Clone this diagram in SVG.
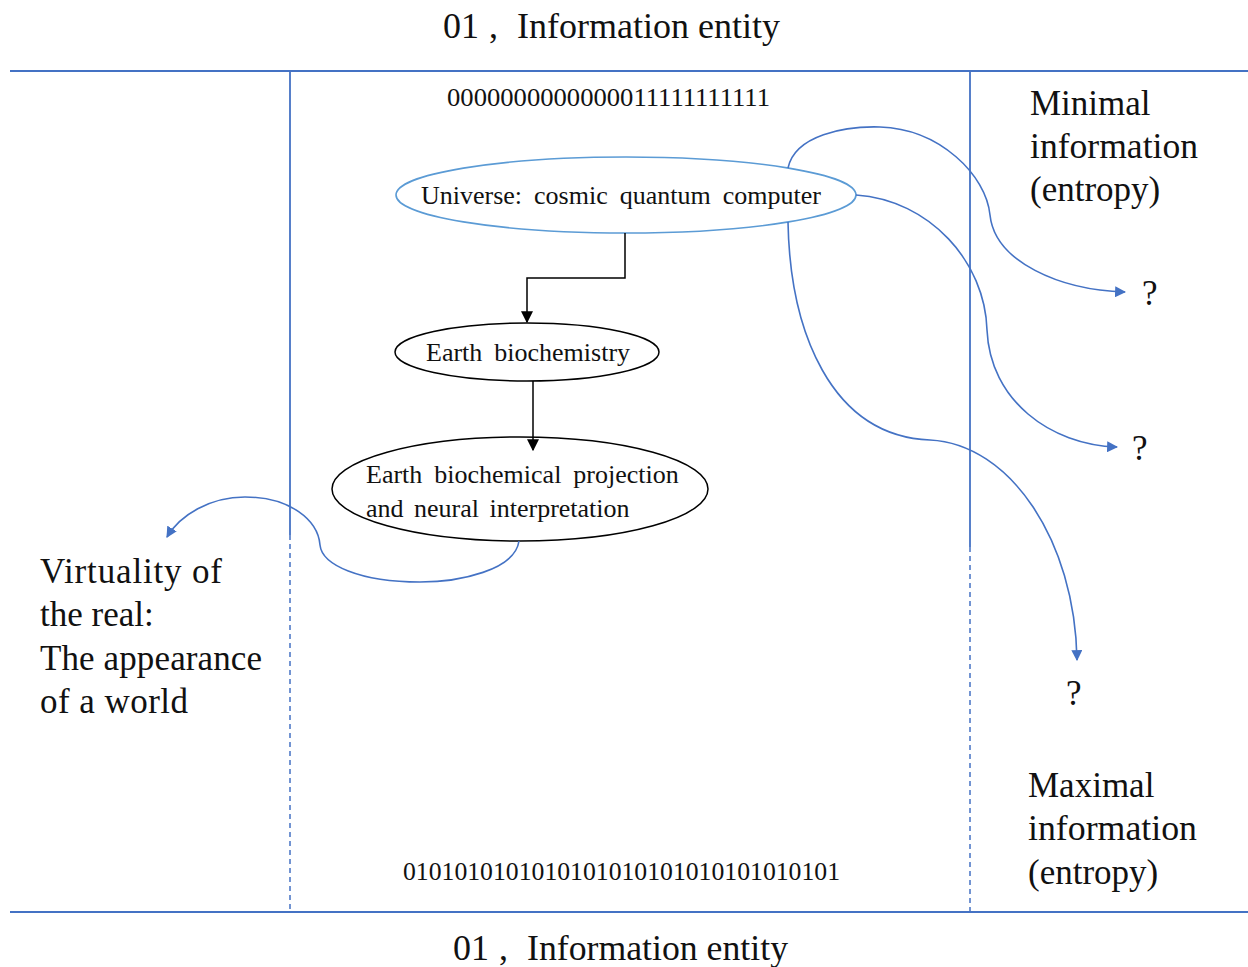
<svg xmlns="http://www.w3.org/2000/svg" width="1248" height="967" viewBox="0 0 1248 967">
<style>
  text { font-family: "Liberation Serif", serif; fill: #111; }
  .title { font-size: 36px; }
  .side { font-size: 35px; }
  .bin { font-size: 25.8px; }
  .node { font-size: 26px; word-spacing: 5px; }
  .frame { stroke: #4472C4; stroke-width: 1.8; fill: none; }
  .dash { stroke: #4472C4; stroke-width: 1.5; stroke-dasharray: 5 4; fill: none; }
  .curve { stroke: #4472C4; stroke-width: 1.6; fill: none; marker-end: url(#blueArrow); }
  .edge { stroke: #000; stroke-width: 1.5; fill: none; marker-end: url(#blackArrow); }
</style>
<defs>
  <marker id="blueArrow" viewBox="0 0 10 10" refX="9" refY="5" markerWidth="11" markerHeight="11" markerUnits="userSpaceOnUse" orient="auto">
    <path d="M0,0 L10,5 L0,10 z" fill="#4472C4"/>
  </marker>
  <marker id="blackArrow" viewBox="0 0 10 10" refX="9" refY="5" markerWidth="12" markerHeight="12" markerUnits="userSpaceOnUse" orient="auto">
    <path d="M0,0 L10,5 L0,10 z" fill="#000"/>
  </marker>
</defs>
<rect width="1248" height="967" fill="#fff"/>

<g id="frame">
  <line class="frame" x1="10" y1="71" x2="1248" y2="71"/>
  <line class="frame" x1="10" y1="912" x2="1248" y2="912"/>
  <line class="frame" x1="290" y1="71" x2="290" y2="535"/>
  <line class="dash" x1="290" y1="535" x2="290" y2="912"/>
  <line class="frame" x1="970" y1="71" x2="970" y2="547"/>
  <line class="dash" x1="970" y1="547" x2="970" y2="912"/>
</g>

<g id="labels">
  <text class="title" y="38"><tspan x="443">01</tspan><tspan x="489">,</tspan><tspan x="517" textLength="263" lengthAdjust="spacingAndGlyphs">Information entity</tspan></text>
  <text class="title" y="960"><tspan x="453">01</tspan><tspan x="499">,</tspan><tspan x="527" textLength="261" lengthAdjust="spacingAndGlyphs">Information entity</tspan></text>
  <text class="bin" x="447" y="106" textLength="323" lengthAdjust="spacingAndGlyphs">0000000000000011111111111</text>
  <text class="bin" x="403" y="880" textLength="437" lengthAdjust="spacingAndGlyphs">0101010101010101010101010101010101</text>
  <text class="side" x="1030" y="115">Minimal</text>
  <text class="side" x="1030" y="158" textLength="168" lengthAdjust="spacingAndGlyphs">information</text>
  <text class="side" x="1030" y="201">(entropy)</text>
  <text class="side" x="1028" y="797">Maximal</text>
  <text class="side" x="1028" y="840" textLength="169" lengthAdjust="spacingAndGlyphs">information</text>
  <text class="side" x="1028" y="884">(entropy)</text>
  <text class="side" x="40" y="583" textLength="182" lengthAdjust="spacing">Virtuality of</text>
  <text class="side" x="40" y="626">the real:</text>
  <text class="side" x="40" y="670" textLength="222" lengthAdjust="spacing">The appearance</text>
  <text class="side" x="40" y="713" textLength="148" lengthAdjust="spacing">of a world</text>
  <text class="side" x="1142" y="305">?</text>
  <text class="side" x="1132" y="460">?</text>
  <text class="side" x="1066" y="705">?</text>
</g>

<g id="node-universe">
  <ellipse cx="626" cy="195" rx="230" ry="38" fill="#fff" stroke="#5B9BD5" stroke-width="1.6"/>
  <text class="node" x="421" y="204" style="word-spacing:5.5px">Universe: cosmic quantum computer</text>
</g>

<g id="node-earth-biochemistry">
  <ellipse cx="527" cy="352" rx="132" ry="29" fill="#fff" stroke="#000" stroke-width="1.5"/>
  <text class="node" x="426" y="361" style="word-spacing:5.5px">Earth biochemistry</text>
</g>

<g id="node-projection">
  <ellipse cx="520" cy="489" rx="188" ry="52" fill="#fff" stroke="#000" stroke-width="1.5"/>
  <text class="node" x="366" y="483" style="word-spacing:5.5px">Earth biochemical projection</text>
  <text class="node" x="366" y="517" style="word-spacing:4px">and neural interpretation</text>
</g>

<g id="connectors">
  <path class="edge" d="M625,233 L625,278 L527,278 L527,322"/>
  <path class="edge" d="M533,381 L533,450"/>
  <path class="curve" d="M788,168 C795,135 845,126 880,127 C940,129 986,175 990,215 C995,262 1060,290 1125,292"/>
  <path class="curve" d="M856,195 C930,200 985,262 987,330 C990,400 1050,445 1117,447"/>
  <path class="curve" d="M788,222 C790,330 830,436 930,440 C1010,444 1075,540 1077,660"/>
  <path class="curve" d="M519,541 C515,570 460,582 420,582 C360,582 322,565 320,545 C318,520 290,497 245,497 C210,497 180,515 167,537"/>
</g>
</svg>
